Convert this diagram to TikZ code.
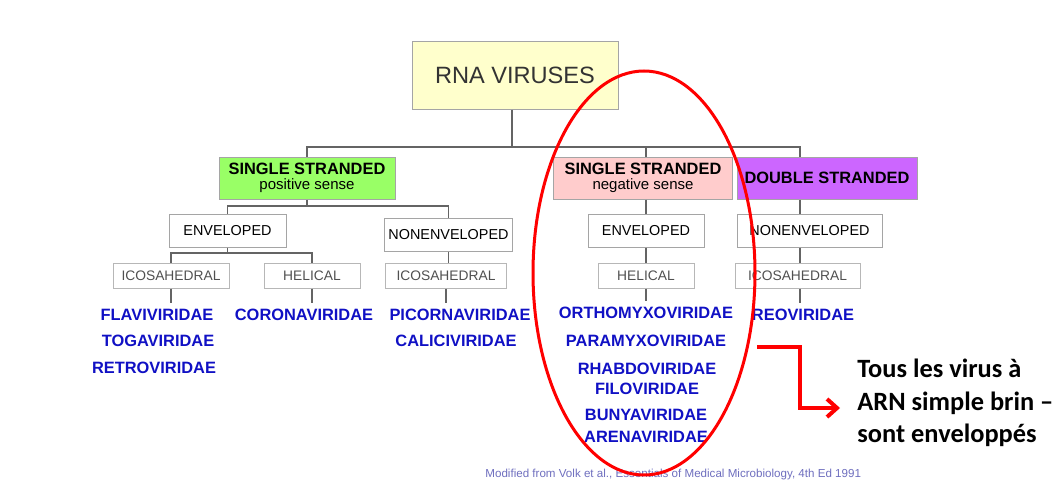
\documentclass[tikz,border=0pt]{standalone}
\usepackage{fontspec}
\setmainfont{Liberation Sans}
\newfontfamily\notefont{Carlito}
\usetikzlibrary{arrows.meta}
\usetikzlibrary{shapes.geometric}
\definecolor{rootyellow}{RGB}{255,255,204}
\definecolor{posgreen}{RGB}{153,255,102}
\definecolor{negpink}{RGB}{255,204,204}
\definecolor{dspurple}{RGB}{204,102,255}
\definecolor{familyblue}{RGB}{16,16,196}
\definecolor{boxgray}{RGB}{165,165,165}
\definecolor{shapegray}{RGB}{80,80,80}
\definecolor{linegray}{RGB}{100,100,100}
\definecolor{creditblue}{RGB}{110,110,190}
\tikzset{
    box/.style={
        rectangle,
        draw=boxgray,
        line width=0.5pt,
        inner sep=0pt,
        align=center
    },
    strand/.style={box, minimum height=21pt, font=\fontsize{8.2}{7.3}\selectfont},
    envbox/.style={box, minimum height=16.5pt, font=\fontsize{7.2}{8}\selectfont},
    shapebox/.style={box, draw=boxgray!80, minimum height=12.5pt, text=shapegray, font=\fontsize{6.9}{8}\selectfont},
    family/.style={text=familyblue, inner sep=3pt, font=\bfseries\fontsize{8.2}{9}\selectfont},
    conn/.style={draw=linegray, line width=0.6pt},
    pointer/.style={
        -{Straight Barb[length=5pt,width=9pt]},
        line width=2pt,
        draw=red
    }
}

\begin{document}
\begin{tikzpicture}[x=0.5pt, y=-0.5pt]
        \useasboundingbox (0,0) rectangle (1060,482);
        \clip (0,0) rectangle (1060,482);

        % Root
        \node (root) [box, fill=rootyellow, minimum width=103pt, minimum height=34pt, text=black!80, font=\fontsize{11.8}{13}\selectfont] at (515,75) {RNA VIRUSES};

        % Strands
        \node (ssp) [strand, fill=posgreen, minimum width=88pt] at (307,178) {\textbf{SINGLE STRANDED}\\{\fontsize{7.5}{7.3}\selectfont positive sense}};
        \node (ssn) [strand, fill=negpink, minimum width=89.5pt] at (643,178) {\textbf{SINGLE STRANDED}\\{\fontsize{7.5}{7.3}\selectfont negative sense}};
        \node (ds) [strand, fill=dspurple, minimum width=90pt] at (827,178) {\textbf{DOUBLE STRANDED}};

        % Envelope
        \node (env1) [envbox, minimum width=58.5pt] at (227.5,230.5) {ENVELOPED};
        \node (nonenv1) [envbox, minimum width=64pt] at (448.5,234.5) {NONENVELOPED};
        \node (env2) [envbox, minimum width=58pt] at (646,230.5) {ENVELOPED};
        \node (nonenv2) [envbox, minimum width=72.5pt] at (809.5,230.5) {NONENVELOPED};

        % Capsid
        \node (icos1) [shapebox, minimum width=58pt] at (171,275.5) {ICOSAHEDRAL};
        \node (hel1) [shapebox, minimum width=48pt] at (312,275.5) {HELICAL};
        \node (icos2) [shapebox, minimum width=60.5pt] at (446,275.5) {ICOSAHEDRAL};
        \node (hel2) [shapebox, minimum width=48pt] at (646,275.5) {HELICAL};
        \node (icos3) [shapebox, minimum width=62.5pt] at (797.5,275.5) {ICOSAHEDRAL};

        % Families
        \node (flavi) [family] at (157,315) {FLAVIVIRIDAE};
        \node (toga) [family] at (158,341) {TOGAVIRIDAE};
        \node (retro) [family] at (154,368) {RETROVIRIDAE};
        \node (corona) [family] at (304,315) {CORONAVIRIDAE};
        \node (picorna) [family] at (460,315) {PICORNAVIRIDAE};
        \node (calici) [family] at (456,341) {CALICIVIRIDAE};
        \node (ortho) [family] at (646,313) {ORTHOMYXOVIRIDAE};
        \node (paramyxo) [family] at (646,341) {PARAMYXOVIRIDAE};
        \node (rhabdo) [family] at (647,369) {RHABDOVIRIDAE};
        \node (filo) [family] at (647,389) {FILOVIRIDAE};
        \node (bunya) [family] at (646,415) {BUNYAVIRIDAE};
        \node (arena) [family] at (646,437) {ARENAVIRIDAE};
        \node (reo) [family] at (803,315) {REOVIRIDAE};

        % Note and credit
        \node (note) [anchor=west, inner sep=0pt, align=left, font=\notefont\bfseries\fontsize{13.2}{16.3}\selectfont] at (857,403) {Tous les virus à\\ARN simple brin –\\sont enveloppés};
        \node (credit) [anchor=south west, inner sep=0pt, text=creditblue, font=\fontsize{5.8}{6}\selectfont] at (485,480) {Modified from Volk et al., Essentials of Medical Microbiology, 4th Ed 1991};

        % Connections
        \coordinate (bus1) at (512,147);
        \coordinate (bus2) at (307,206);
        \coordinate (bus3) at (227.5,253);
        \coordinate (dscol) at (800,0);
        \draw[conn] (root.south -| bus1) -- (bus1);
        \draw[conn] (ssp.north) |- (bus1) -| (ds.north -| dscol);
        \draw[conn] (env2 |- ssn.north) -- (env2 |- bus1);
        \draw[conn] (ssp.south) -- (bus2);
        \draw[conn] (env1.north) |- (bus2) -| (nonenv1.north);
        \draw[conn] (env1.south) -- (bus3);
        \draw[conn] (icos1.north) |- (bus3) -| (hel1.north);
        \draw[conn] (nonenv1.south) -- (nonenv1.south |- icos2.north);
        \draw[conn] (icos1.south) -- (icos1.south |- flavi.north);
        \draw[conn] (hel1.south) -- (hel1.south |- corona.north);
        \draw[conn] (icos2.south) -- (icos2.south |- picorna.north);
        \draw[conn] (env2 |- ssn.south) -- (env2.north);
        \draw[conn] (env2.south) -- (hel2.north);
        \draw[conn] (hel2.south) -- (hel2.south |- ortho.north);
        \draw[conn] (ds.south -| dscol) -- (nonenv2.north -| dscol);
        \draw[conn] (nonenv2.south -| dscol) -- (icos3.north -| dscol);
        \draw[conn] (icos3.south -| dscol) -- (reo.north -| dscol);

        % Highlight
        \node (circled) [draw=red, line width=1.5pt, ellipse, minimum width=111pt, minimum height=202pt, inner sep=0pt] at (644,273) {};
        \coordinate (arrstart) at (757,347);
        \coordinate (arrtip) at (840,408);
        \draw[pointer] (arrstart) -- ++(43,0) |- (arrtip);

    \end{tikzpicture}
\end{document}
